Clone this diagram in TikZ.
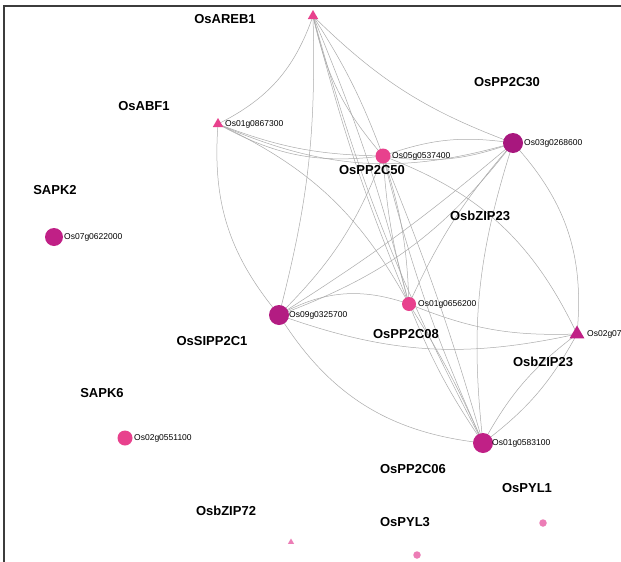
\documentclass[tikz,border=0pt]{standalone}
\usepackage{fontspec}
\setmainfont{Liberation Sans}
\usetikzlibrary{shapes.geometric}
\definecolor{pinkA}{HTML}{E8418D}
\definecolor{magA}{HTML}{A8177E}
\definecolor{magB}{HTML}{B31C82}
\definecolor{magC}{HTML}{C02086}
\definecolor{lightpk}{HTML}{EC7DB6}
\definecolor{edgegrey}{HTML}{ABABAB}
\definecolor{framegrey}{HTML}{3C3C3C}
\tikzset{
  edge/.style={draw=edgegrey, line width=0.5pt},
  dot/.style={circle, inner sep=0pt, draw=none},
  tri/.style={regular polygon, regular polygon sides=3, inner sep=0pt, draw=none},
  gid/.style={anchor=west, inner sep=0pt, font=\fontsize{8.5}{9}\selectfont},
  glabel/.style={inner sep=0pt, font=\fontsize{13}{14}\selectfont\bfseries},
}
\begin{document}
\begin{tikzpicture}[x=1pt, y=-1pt]
\useasboundingbox (0,0) rectangle (621,562);
\clip (0,0) rectangle (621,562);
\fill[white] (0,0) rectangle (621,562);
% frame
\draw[framegrey, line width=1.3pt] (4,562) -- (4,6) -- (621,6);

% node centres
\coordinate (A) at (313,16);
\coordinate (B) at (218,124);
\coordinate (C) at (383,156);
\coordinate (D) at (513,143);
\coordinate (E) at (409,304);
\coordinate (F) at (279,315);
\coordinate (G) at (577,334);
\coordinate (H) at (483,443);

% edges
\draw[edge] (A) to[bend left=22] (B);
\draw[edge] (A) to[bend left=8] (F);
\draw[edge] (A) to[bend left=6] (C);
\draw[edge] (A) to[bend right=14] (C);
\draw[edge] (A) to[bend right=12] (D);
\draw[edge] (A) to[bend left=4] (E);
\draw[edge] (A) to[bend right=4] (E);
\draw[edge] (A) to[bend right=6] (H);
\draw[edge] (B) to[bend right=10] (C);
\draw[edge] (B) to[bend right=18] (C);
\draw[edge] (B) to[bend right=20] (D);
\draw[edge] (B) to[bend left=18] (E);
\draw[edge] (B) to[bend right=22] (F);
\draw[edge] (C) to[bend left=14] (D);
\draw[edge] (C) to[bend right=14] (D);
\draw[edge] (C) to[bend left=8] (E);
\draw[edge] (C) to[bend right=6] (E);
\draw[edge] (C) to[bend left=12] (F);
\draw[edge] (C) to[bend left=22] (G);
\draw[edge] (C) to[bend right=5] (H);
\draw[edge] (C) to[bend left=3] (H);
\draw[edge] (D) to[bend right=8] (E);
\draw[edge] (D) to[bend left=16] (F);
\draw[edge] (D) to[bend left=4] (F);
\draw[edge] (D) to[bend left=24] (G);
\draw[edge] (D) to[bend right=12] (H);
\draw[edge] (E) to[bend right=24] (F);
\draw[edge] (E) to[bend right=12] (G);
\draw[edge] (E) to[bend right=6] (H);
\draw[edge] (E) to[bend left=4] (H);
\draw[edge] (F) to[bend right=16] (G);
\draw[edge] (F) to[bend right=26] (H);
\draw[edge] (G) to[bend left=12] (H);
\draw[edge] (G) to[bend right=12] (H);

% nodes
\node[tri, fill=pinkA, minimum size=12pt] (nA) at (A) {};
\node[tri, fill=pinkA, minimum size=12pt] (nB) at (B) {};
\node[dot, fill=pinkA, minimum size=15pt] (nC) at (C) {};
\node[dot, fill=magA, minimum size=20pt] (nD) at (D) {};
\node[dot, fill=pinkA, minimum size=14pt] (nE) at (E) {};
\node[dot, fill=magB, minimum size=20pt] (nF) at (F) {};
\node[tri, fill=magC, minimum size=17pt] (nG) at (G) {};
\node[dot, fill=magC, minimum size=20pt] (nH) at (H) {};
\node[dot, fill=magC, minimum size=18pt] (nS2) at (54,237) {};
\node[dot, fill=pinkA, minimum size=15pt] (nS6) at (125,438) {};
\node[dot, fill=lightpk, minimum size=7.5pt] (nP1) at (543,523) {};
\node[dot, fill=lightpk, minimum size=7.5pt] (nP3) at (417,555) {};
\node[tri, fill=lightpk, minimum size=7pt] (nZ72) at (291,542) {};

% gene ids
\node[gid] (iA) at (225,124) {Os01g0867300};
\node[gid] (iC) at (392,156) {Os05g0537400};
\node[gid] (iD) at (524,143) {Os03g0268600};
\node[gid] (iE) at (418,304) {Os01g0656200};
\node[gid] (iF) at (289,315) {Os09g0325700};
\node[gid] (iG) at (587,334) {Os02g0766700};
\node[gid] (iH) at (492,443) {Os01g0583100};
\node[gid] (iS2) at (64,237) {Os07g0622000};
\node[gid] (iS6) at (134,438) {Os02g0551100};

% gene names
\node[glabel] (lAREB) at (225,19) {OsAREB1};
\node[glabel] (lABF) at (144,106) {OsABF1};
\node[glabel] (l30) at (507,82) {OsPP2C30};
\node[glabel] (l50) at (372,170) {OsPP2C50};
\node[glabel] (lSAPK2) at (55,190) {SAPK2};
\node[glabel] (lZ23a) at (480,216) {OsbZIP23};
\node[glabel] (lSI) at (212,341) {OsSIPP2C1};
\node[glabel] (l08) at (406,334) {OsPP2C08};
\node[glabel] (lZ23b) at (543,362) {OsbZIP23};
\node[glabel] (lSAPK6) at (102,393) {SAPK6};
\node[glabel] (l06) at (413,469) {OsPP2C06};
\node[glabel] (lPYL1) at (527,488) {OsPYL1};
\node[glabel] (lZ72) at (226,511) {OsbZIP72};
\node[glabel] (lPYL3) at (405,522) {OsPYL3};
\end{tikzpicture}
\end{document}
